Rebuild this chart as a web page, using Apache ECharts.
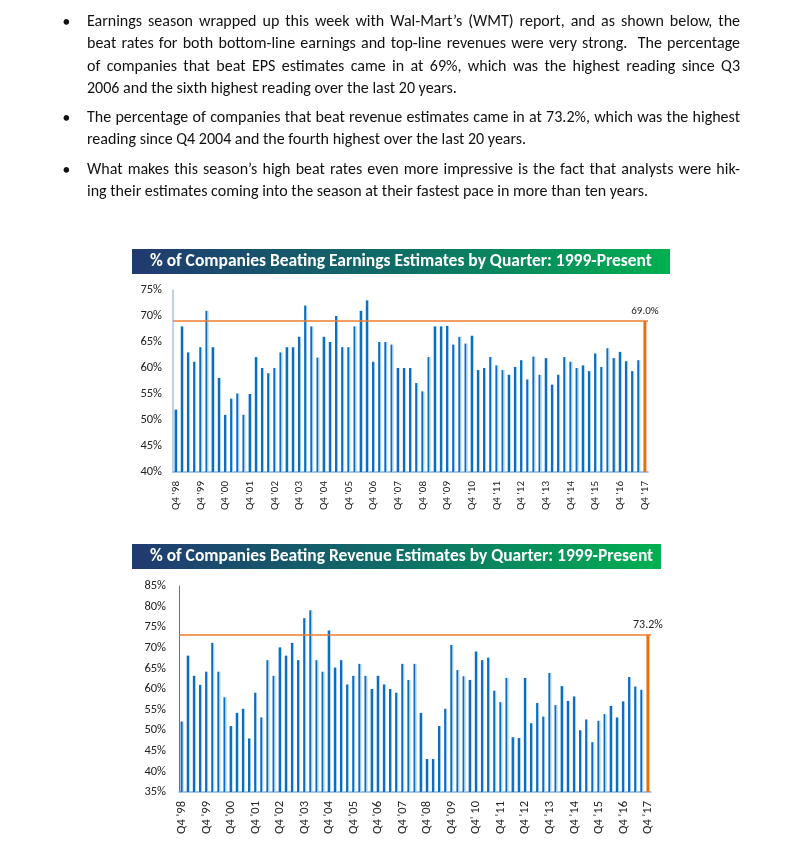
<!DOCTYPE html>
<html>
<head>
<meta charset="utf-8">
<script src="https://cdn.jsdelivr.net/npm/echarts@6/dist/echarts.min.js"></script>
<style>
  html, body { margin:0; padding:0; background:#fff; }
  #page { position:relative; width:790px; height:863px; overflow:hidden; }
  #chart { position:absolute; left:0; top:0; width:790px; height:863px; }
  .txt { position:absolute; left:87px; width:653px; font-family: Carlito, Lato, "Open Sans", sans-serif; font-size:16px; color:#111; }
  .ln { height:22.3px; line-height:22.3px; white-space:nowrap; text-align:justify; text-align-last:justify; }
  .ln.last { text-align-last:left; }
  .bul { position:absolute; left:62px; font-family: Lato, sans-serif; font-size:15px; color:#111; line-height:22.3px; }
</style>
</head>
<body>
<div id="page">
  <div id="chart"></div>
  <div class="bul" style="top:10px">•</div>
  <div class="txt" style="top:10px">
    <div class="ln">Earnings season wrapped up this week with Wal-Mart’s (WMT) report, and as shown below, the</div>
    <div class="ln">beat rates for both bottom-line earnings and top-line revenues were very strong.&nbsp; The percentage</div>
    <div class="ln">of companies that beat EPS estimates came in at 69%, which was the highest reading since Q3</div>
    <div class="ln last">2006 and the sixth highest reading over the last 20 years.</div>
  </div>
  <div class="bul" style="top:106px">•</div>
  <div class="txt" style="top:106px">
    <div class="ln">The percentage of companies that beat revenue estimates came in at 73.2%, which was the highest</div>
    <div class="ln last">reading since Q4 2004 and the fourth highest over the last 20 years.</div>
  </div>
  <div class="bul" style="top:158px">•</div>
  <div class="txt" style="top:158px">
    <div class="ln">What makes this season’s high beat rates even more impressive is the fact that analysts were hik-</div>
    <div class="ln last">ing their estimates coming into the season at their fastest pace in more than ten years.</div>
  </div>
</div>
<script>
// ---- data ----
const tickLabelsEarnings = ["Q4 '98","Q4 '99","Q4 '00","Q4 '01","Q4 '02","Q4 '03","Q4 '04","Q4 '05","Q4 '06","Q4 '07","Q4 '08","Q4 '09","Q4 '10","Q4 '11","Q4 '12","Q4 '13","Q4 '14","Q4 '15","Q4 '16","Q4 '17"];
const tickLabelsRevenue = ["Q4 '98","Q4 '99","Q4 '00","Q4 '01","Q4 '02","Q4 '03","Q4 '04","Q4 '05","Q4 '06","Q4 '07","Q4 '08","Q4 '09","Q4' 10","Q4 '11","Q4 '12","Q4 '13","Q4 '14","Q4 '15","Q4 '16","Q4 '17"];

// % of companies beating EPS estimates, Q4 '98 .. Q4 '17 (77 quarters)
const earningsBeat = [
  52, 68, 63, 61.2, 64, 71, 64, 58.1, 51, 54.1, 55.1, 51, 55, 62.1, 60, 59, 60, 63, 64, 64,
  66, 72, 68, 62, 66, 65, 70, 64, 64, 68, 71, 73, 61.2, 65, 65, 64.5, 60, 60, 60, 57.1,
  55.5, 62.1, 68, 68, 68.1, 64.5, 66, 64.7, 66.2, 59.6, 60, 62.1, 60.5, 59.6, 58.7, 60.2, 61.5, 57.8, 62.2, 58.7,
  61.9, 56.8, 58.7, 62.1, 61.2, 60, 60.5, 59.4, 62.8, 60.2, 63.8, 61.9, 63.1, 61.3, 59.4, 61.5, 69.0
];
// % of companies beating revenue estimates, Q4 '98 .. Q4 '17 (77 quarters)
const revenueBeat = [
  52.1, 68.1, 63.2, 61, 64.2, 71.2, 64.2, 58, 51, 54.2, 55.2, 48, 59.1, 53.1, 67, 63.2, 70.1, 68.1, 71.2, 67,
  77.2, 79.1, 67, 64.2, 74.2, 65.2, 67, 61.1, 63.2, 66.1, 63.2, 60, 63.2, 61.1, 60, 59.1, 66.1, 62.2, 66.1, 54.2,
  43, 43, 51, 55.2, 70.7, 64.6, 63.1, 62.2, 69.1, 67, 67.6, 59.6, 56.8, 62.7, 48.3, 48.1, 62.7, 51.7, 56.6, 53.3,
  63.9, 56.1, 60.7, 57.1, 58.2, 50, 52.6, 47.1, 52.3, 53.9, 55.9, 53.1, 57, 62.9, 60.6, 59.8, 73.2
];
const latestEarnings = 69.0;
const latestRevenue = 73.2;

// ---- build ----
const quarters = earningsBeat.map((_, i) => {
  const y = 1998 + Math.floor((i + 3) / 4);
  const q = ((i + 3) % 4) + 1;
  return 'Q' + q + " '" + String(y).slice(2);
});

const FONT = 'Carlito, Lato, "Open Sans", sans-serif';
const BLUE = '#0A6EC2', LIGHT = '#9CC7EE', ORANGE = '#E8700D', LINE_OR = '#ED7D31';

function barColor() {
  return new echarts.graphic.LinearGradient(0, 0, 1, 0, [
    { offset: 0, color: BLUE }, { offset: 0.64, color: BLUE },
    { offset: 0.65, color: LIGHT }, { offset: 1, color: LIGHT }
  ]);
}
function toData(arr, fontSize) {
  return arr.map((v, i) => i === arr.length - 1
    ? { value: v, itemStyle: { color: ORANGE },
        label: { show: true, position: 'top', distance: 4, color: '#222', fontSize: fontSize, fontFamily: FONT,
                 formatter: p => p.value.toFixed(1) + '%' } }
    : { value: v });
}
function bannerGradient() {
  return new echarts.graphic.LinearGradient(0, 0, 1, 0, [
    { offset: 0, color: '#203A70' }, { offset: 0.5, color: '#0F6E67' }, { offset: 1, color: '#00B050' }
  ]);
}

const chart = echarts.init(document.getElementById('chart'), null, { renderer: 'canvas' });
chart.setOption({
  animation: false,
  textStyle: { fontFamily: FONT },
  graphic: [
    { type: 'rect', shape: { x: 132, y: 249, width: 538, height: 25 }, style: { fill: bannerGradient() } },
    { type: 'text', x: 150, y: 261.5, style: { text: '% of Companies Beating Earnings Estimates by Quarter: 1999-Present',
      fill: '#fff', font: 'bold 17.5px ' + FONT, textVerticalAlign: 'middle' } },
    { type: 'rect', shape: { x: 132, y: 544, width: 529, height: 25 }, style: { fill: bannerGradient() } },
    { type: 'text', x: 150, y: 556.5, style: { text: '% of Companies Beating Revenue Estimates by Quarter: 1999-Present',
      fill: '#fff', font: 'bold 17.5px ' + FONT, textVerticalAlign: 'middle' } }
  ],
  grid: [
    { left: 173, top: 290, width: 475, height: 182 },
    { left: 179, top: 586, width: 472, height: 206 }
  ],
  xAxis: [
    { type: 'category', gridIndex: 0, data: quarters, boundaryGap: true,
      axisLine: { lineStyle: { color: '#8DB3E2', width: 1.5 } }, axisTick: { show: false },
      axisLabel: { interval: 3, rotate: 90, margin: 9, fontSize: 11, color: '#222', fontFamily: FONT,
        formatter: (v, i) => tickLabelsEarnings[i / 4] } },
    { type: 'category', gridIndex: 1, data: quarters, boundaryGap: true,
      axisLine: { lineStyle: { color: '#8DB3E2', width: 1.5 } }, axisTick: { show: false },
      axisLabel: { interval: 3, rotate: 90, margin: 9, fontSize: 12.5, color: '#222', fontFamily: FONT,
        formatter: (v, i) => tickLabelsRevenue[i / 4] } }
  ],
  yAxis: [
    { type: 'value', gridIndex: 0, min: 40, max: 75, interval: 5,
      axisLine: { show: true, lineStyle: { color: '#A9C4E4', width: 1.5 } }, axisTick: { show: false },
      splitLine: { show: false },
      axisLabel: { margin: 11, fontSize: 12.5, color: '#222', fontFamily: FONT, formatter: '{value}%' } },
    { type: 'value', gridIndex: 1, min: 35, max: 85, interval: 5,
      axisLine: { show: true, lineStyle: { color: '#4A78BE', width: 1 } }, axisTick: { show: false },
      splitLine: { show: false },
      axisLabel: { margin: 13, fontSize: 12.5, color: '#222', fontFamily: FONT, formatter: '{value}%' } }
  ],
  series: [
    { type: 'bar', xAxisIndex: 0, yAxisIndex: 0, data: toData(earningsBeat, 11), barWidth: 3,
      itemStyle: { color: barColor() },
      markLine: { silent: true, symbol: 'none', label: { show: false },
        lineStyle: { color: LINE_OR, width: 1.5, type: 'solid' }, data: [{ yAxis: latestEarnings }] } },
    { type: 'bar', xAxisIndex: 1, yAxisIndex: 1, data: toData(revenueBeat, 12), barWidth: 3,
      itemStyle: { color: barColor() },
      markLine: { silent: true, symbol: 'none', label: { show: false },
        lineStyle: { color: LINE_OR, width: 1.5, type: 'solid' }, data: [{ yAxis: latestRevenue }] } }
  ]
});
</script>
</body>
</html>
